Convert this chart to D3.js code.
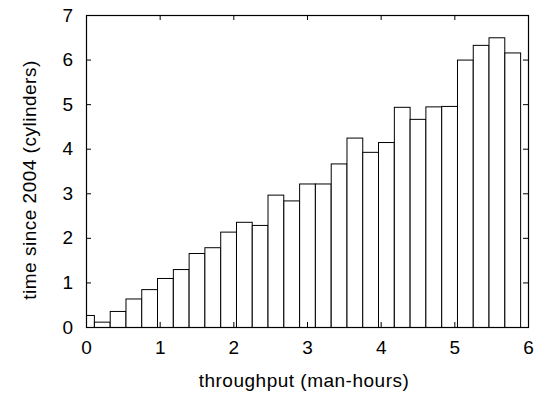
<!DOCTYPE html>
<html>
<head>
<meta charset="utf-8">
<script src="https://cdn.jsdelivr.net/npm/d3@7"></script>
<style>
	body { margin: 0; background: #fff; }
	svg text { font-family: "Liberation Sans", Arial, sans-serif; fill: #000; }
</style>
</head>
<body>
<div id="chart"></div>
<script>
// bin centres along x (man-hours) and the bar heights
var binCenters = [0, 0.214, 0.429, 0.643, 0.857, 1.071, 1.286, 1.5, 1.714, 1.929,
	2.143, 2.357, 2.571, 2.786, 3.0, 3.214, 3.429, 3.643, 3.857, 4.071,
	4.286, 4.5, 4.714, 4.929, 5.143, 5.357, 5.571, 5.786];
var binHeights = [0.27, 0.12, 0.36, 0.64, 0.85, 1.1, 1.3, 1.66, 1.79, 2.14,
	2.36, 2.29, 2.97, 2.84, 3.22, 3.22, 3.67, 4.25, 3.93, 4.15,
	4.94, 4.67, 4.95, 4.96, 6.0, 6.33, 6.5, 6.16];
var xTicks = [0, 1, 2, 3, 4, 5, 6];
var yTicks = [0, 1, 2, 3, 4, 5, 6, 7];
var binWidth = 0.214;

var width = 549,
	height = 394,
	margin = {top: 15, right: 21, bottom: 67, left: 86},
	pw = width - margin.left - margin.right,
	ph = height - margin.top - margin.bottom,
	fontSize = "19px",
	spacing = "0.5px";

var x = d3.scaleLinear().domain([0, 6]).range([0, pw]);
var y = d3.scaleLinear().domain([0, 7]).range([ph, 0]);

var svg = d3.select("#chart").append("svg")
	.attr("width", width)
	.attr("height", height);

var g = svg.append("g")
	.attr("transform", "translate(" + margin.left + "," + margin.top + ")");

g.append("clipPath").attr("id", "clip")
	.append("rect").attr("width", pw).attr("height", ph);

// boxes
g.append("g")
	.attr("clip-path", "url(#clip)")
	.selectAll("rect")
	.data(binCenters)
	.join("rect")
	.attr("x", function (d) { return x(d - binWidth / 2) + 0.5; })
	.attr("y", function (d, i) { return y(binHeights[i]) + 0.5; })
	.attr("width", function (d) { return x(binWidth) - x(0); })
	.attr("height", function (d, i) { return y(0) - y(binHeights[i]); })
	.attr("fill", "#fff")
	.attr("stroke", "#000")
	.attr("stroke-width", 1);

// mirrored inward ticks
var tl = 5,
	noLabel = function () { return ""; },
	intFmt = d3.format("d");
var axBottom = d3.axisBottom(x).tickValues(xTicks).tickSizeInner(-tl).tickSizeOuter(0).tickPadding(14).tickFormat(intFmt);
var axTop = d3.axisTop(x).tickValues(xTicks).tickSizeInner(-tl).tickSizeOuter(0).tickFormat(noLabel);
var axLeft = d3.axisLeft(y).tickValues(yTicks).tickSizeInner(-tl).tickSizeOuter(0).tickPadding(13).tickFormat(intFmt);
var axRight = d3.axisRight(y).tickValues(yTicks).tickSizeInner(-tl).tickSizeOuter(0).tickFormat(noLabel);

g.append("g").attr("transform", "translate(0," + ph + ")").call(axBottom);
g.append("g").call(axTop);
g.append("g").call(axLeft);
g.append("g").attr("transform", "translate(" + pw + ",0)").call(axRight);

g.selectAll(".domain").remove();
g.selectAll(".tick line").attr("stroke", "#000");
g.selectAll(".tick text").style("font-size", fontSize);

// frame
g.append("rect")
	.attr("x", 0.5).attr("y", 0.5)
	.attr("width", pw).attr("height", ph)
	.attr("fill", "none")
	.attr("stroke", "#000")
	.attr("stroke-width", 1.2);

svg.append("text")
	.attr("x", 304)
	.attr("y", 387)
	.attr("text-anchor", "middle")
	.style("font-size", fontSize)
	.style("letter-spacing", spacing)
	.text("throughput (man-hours)");

svg.append("text")
	.attr("transform", "translate(36,180) rotate(-90)")
	.attr("text-anchor", "middle")
	.style("font-size", fontSize)
	.style("letter-spacing", spacing)
	.text("time since 2004 (cylinders)");
</script>
</body>
</html>
